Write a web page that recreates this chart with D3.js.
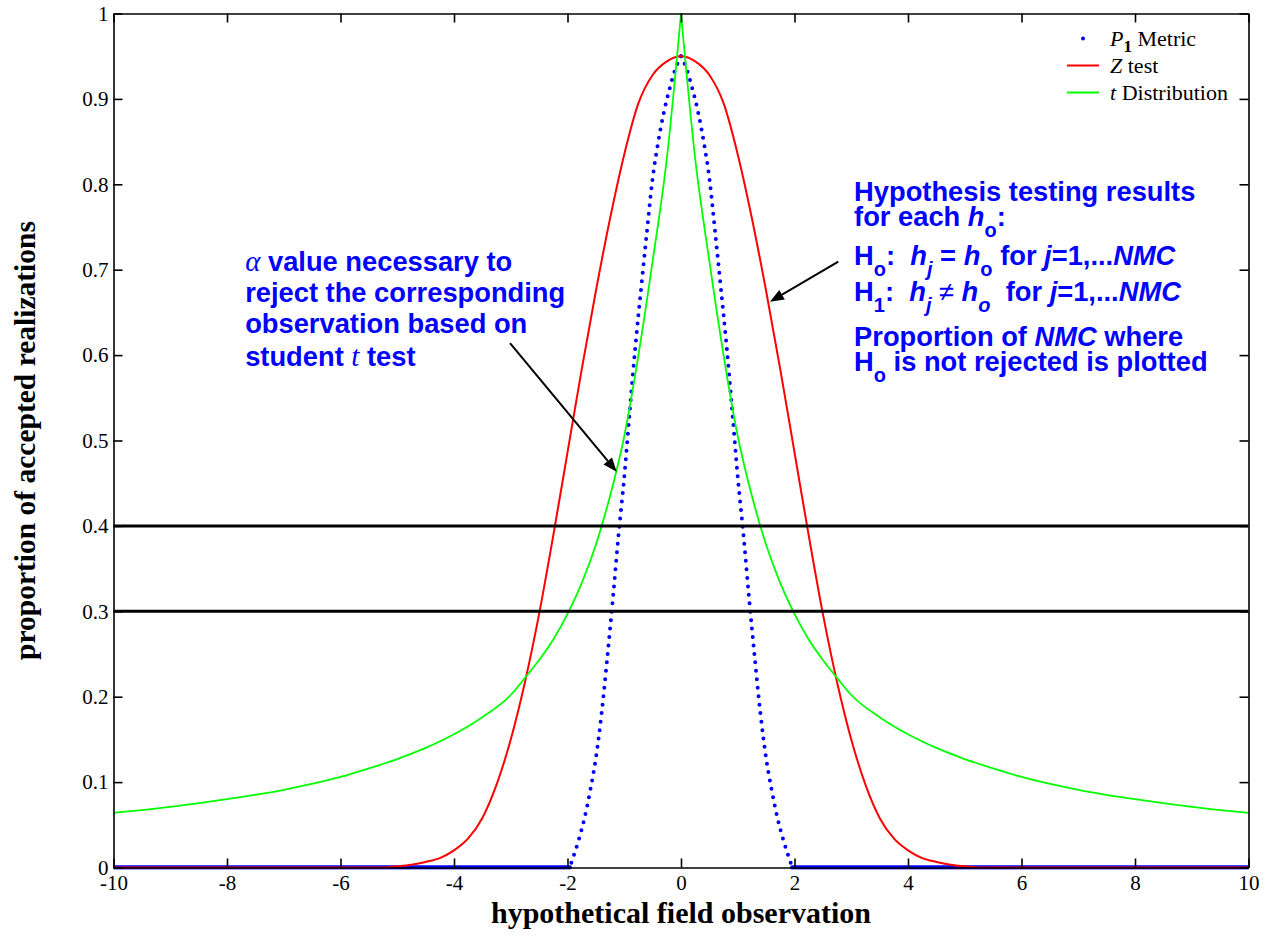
<!DOCTYPE html>
<html>
<head>
<meta charset="utf-8">
<script src="https://cdn.jsdelivr.net/npm/d3@7"></script>
<style>
  body { margin: 0; background: #fff; }
  svg { display: block; }
  text { white-space: pre; }
</style>
</head>
<body>
<svg id="chart" width="1267" height="941"></svg>
<script>
// ---- data -------------------------------------------------------------
// P1 metric (plotted as dots)
const p1X = [-10, -1.96, -1.9, -1.8, -1.7, -1.6, -1.5, -1.4, -1.3, -1.2, -1.1, -1.0,
  -0.9, -0.8, -0.7, -0.6, -0.5, -0.4, -0.3, -0.2, -0.1, 0,
  0.1, 0.2, 0.3, 0.4, 0.5, 0.6, 0.7, 0.8, 0.9, 1.0, 1.1, 1.2, 1.3, 1.4, 1.5,
  1.6, 1.7, 1.8, 1.9, 1.96, 10];
const p1Y = [0, 0, 0.012, 0.033, 0.058, 0.09, 0.128, 0.18, 0.245, 0.315, 0.39, 0.457,
  0.537, 0.613, 0.68, 0.745, 0.807, 0.85, 0.885, 0.912, 0.935, 0.95,
  0.935, 0.912, 0.885, 0.85, 0.807, 0.745, 0.68, 0.613, 0.537, 0.457, 0.39, 0.315, 0.245, 0.18, 0.128,
  0.09, 0.058, 0.033, 0.012, 0, 0];

// Z test
const zX = [-10, -5.25, -5, -4.75, -4.5, -4.25, -4, -3.75, -3.5, -3.25, -3, -2.75, -2.5,
  -2.25, -2, -1.75, -1.5, -1.25, -1, -0.75, -0.5, -0.25, 0,
  0.25, 0.5, 0.75, 1, 1.25, 1.5, 1.75, 2, 2.25, 2.5, 2.75, 3, 3.25, 3.5,
  3.75, 4, 4.25, 4.5, 4.75, 5, 5.25, 10];
const zY = [0, 0, 0.0014, 0.0033, 0.0065, 0.011, 0.02, 0.034, 0.058, 0.097, 0.15, 0.217, 0.297,
  0.389, 0.486, 0.583, 0.675, 0.76, 0.835, 0.895, 0.928, 0.944, 0.95,
  0.944, 0.928, 0.895, 0.835, 0.76, 0.675, 0.583, 0.486, 0.389, 0.297, 0.217, 0.15, 0.097, 0.058,
  0.034, 0.02, 0.011, 0.0065, 0.0033, 0.0014, 0, 0];

// t distribution
const tX = [-10, -9, -8, -7, -6, -5.5, -5, -4.5, -4, -3.5, -3, -2.75, -2.5, -2.25, -2,
  -1.75, -1.5, -1.25, -1, -0.75, -0.5, -0.25, 0,
  0.25, 0.5, 0.75, 1, 1.25, 1.5, 1.75, 2, 2.25, 2.5, 2.75, 3, 3.5, 4, 4.5, 5, 5.5,
  6, 7, 8, 9, 10];
const tY = [0.064, 0.071, 0.080, 0.091, 0.106, 0.116, 0.127, 0.14, 0.156, 0.176, 0.202, 0.222, 0.243, 0.267, 0.297,
  0.333, 0.378, 0.435, 0.505, 0.60, 0.71, 0.83, 1.0,
  0.83, 0.71, 0.60, 0.505, 0.435, 0.378, 0.333, 0.297, 0.267, 0.243, 0.222, 0.202, 0.176, 0.156, 0.14, 0.127, 0.116,
  0.106, 0.091, 0.080, 0.071, 0.064];

// reference levels
const refLevels = [0.3, 0.4];

// ticks
const xTicks = [-10, -8, -6, -4, -2, 0, 2, 4, 6, 8, 10];
const xTickLabels = ["-10", "-8", "-6", "-4", "-2", "0", "2", "4", "6", "8", "10"];
const yTicks = [0, 0.1, 0.2, 0.3, 0.4, 0.5, 0.6, 0.7, 0.8, 0.9, 1];
const yTickLabels = ["0", "0.1", "0.2", "0.3", "0.4", "0.5", "0.6", "0.7", "0.8", "0.9", "1"];

const seriesNames = ["Metric", "test", "Distribution"];

// ---- layout -----------------------------------------------------------
const svg = d3.select("#chart");
const W = 1267, H = 941;
const plot = { left: 113.5, right: 1248.5, top: 13.5, bottom: 867.5 };
const SERIF = "'Liberation Serif', 'Times New Roman', Times, serif";
const SANS = "'Liberation Sans', Arial, Helvetica, sans-serif";
const BLUE = "#0000ff", RED = "#ff0000", GREEN = "#00ff00";

svg.append("rect").attr("width", W).attr("height", H).attr("fill", "#fff");

const x = d3.scaleLinear().domain([-10, 10]).range([plot.left, plot.right]);
const y = d3.scaleLinear().domain([0, 1]).range([plot.bottom, plot.top]);

svg.append("defs").append("clipPath").attr("id", "plotclip")
  .append("rect")
  .attr("x", plot.left).attr("y", plot.top - 2)
  .attr("width", plot.right - plot.left).attr("height", plot.bottom - plot.top + 4);

const curves = svg.append("g").attr("clip-path", "url(#plotclip)");

const zip = (xs, ys) => xs.map((v, i) => [v, ys[i]]);
const line = d3.line().x(d => x(d[0])).y(d => y(d[1]));
const smooth = d3.line().x(d => x(d[0])).y(d => y(d[1])).curve(d3.curveMonotoneX);
// split a peaked series at its apex so the apex stays pointed
const halves = pts => {
  const k = d3.maxIndex(pts, d => d[1]);
  return [pts.slice(0, k + 1), pts.slice(k)];
};

// P1 metric: dotted curve; where it sits on zero the dots merge into a solid band
const p1 = zip(p1X, p1Y);
const isFlat = (i) => p1[i][1] === 0 &&
  ((i > 0 && p1[i - 1][1] === 0) || (i < p1.length - 1 && p1[i + 1][1] === 0));
const flatPts = p1.filter((d, i) => isFlat(i));
const peakPts = p1.filter((d, i) => d[1] !== 0 || (i > 0 && p1[i - 1][1] !== 0) || (i < p1.length - 1 && p1[i + 1][1] !== 0));
[flatPts.filter(d => d[0] < 0), flatPts.filter(d => d[0] > 0)].forEach(run => {
  curves.append("path").attr("d", line(run))
    .attr("fill", "none").attr("stroke", BLUE)
    .attr("stroke-width", 4.4).attr("stroke-linecap", "round");
});
halves(peakPts).forEach((half, i) => {
  curves.append("path").attr("d", smooth(i === 0 ? half.slice().reverse() : half))
    .attr("fill", "none").attr("stroke", BLUE)
    .attr("stroke-width", 4).attr("stroke-linecap", "round")
    .attr("stroke-dasharray", "0 8.5");
});

// Z test
curves.append("path").attr("d", smooth(zip(zX, zY)))
  .attr("fill", "none").attr("stroke", RED).attr("stroke-width", 2)
  .attr("stroke-linejoin", "round");

// t distribution (pointed apex)
halves(zip(tX, tY)).forEach(half => {
  curves.append("path").attr("d", smooth(half))
    .attr("fill", "none").attr("stroke", GREEN).attr("stroke-width", 1.8)
    .attr("stroke-linejoin", "round");
});

// horizontal reference levels
curves.selectAll("line.ref").data(refLevels).join("line")
  .attr("class", "ref")
  .attr("x1", plot.left).attr("x2", plot.right)
  .attr("y1", d => y(d)).attr("y2", d => y(d))
  .attr("stroke", "#000").attr("stroke-width", 3);

// ---- axes (box with inward ticks) -------------------------------------
function styleAxis(g) {
  g.selectAll("path.domain").attr("stroke", "#000").attr("stroke-width", 1.6);
  g.selectAll(".tick line").attr("stroke", "#000").attr("stroke-width", 1.6);
  g.selectAll(".tick text").attr("font-family", SERIF).attr("font-size", 21).attr("fill", "#000");
}
const TICK = 9;
svg.append("g").attr("transform", `translate(0,${plot.bottom})`)
  .call(d3.axisBottom(x).tickValues(xTicks).tickFormat((d, i) => xTickLabels[i])
    .tickSizeInner(-TICK).tickSizeOuter(0).tickPadding(8))
  .call(styleAxis);
svg.append("g").attr("transform", `translate(0,${plot.top})`)
  .call(d3.axisTop(x).tickValues(xTicks).tickFormat("").tickSizeInner(-TICK).tickSizeOuter(0))
  .call(styleAxis);
svg.append("g").attr("transform", `translate(${plot.left},0)`)
  .call(d3.axisLeft(y).tickValues(yTicks).tickFormat((d, i) => yTickLabels[i])
    .tickSizeInner(-TICK).tickSizeOuter(0).tickPadding(5))
  .call(styleAxis);
svg.append("g").attr("transform", `translate(${plot.right},0)`)
  .call(d3.axisRight(y).tickValues(yTicks).tickFormat("").tickSizeInner(-TICK).tickSizeOuter(0))
  .call(styleAxis);

// axis titles
svg.append("text")
  .attr("x", (plot.left + plot.right) / 2).attr("y", 923)
  .attr("text-anchor", "middle")
  .attr("font-family", SERIF).attr("font-weight", "bold").attr("font-size", 30)
  .text("hypothetical field observation");
svg.append("text")
  .attr("transform", `translate(35,${(plot.top + plot.bottom) / 2}) rotate(-90)`)
  .attr("text-anchor", "middle")
  .attr("font-family", SERIF).attr("font-weight", "bold").attr("font-size", 29.5)
  .text("proportion of accepted realizations");

// ---- legend -------------------------------------------------------------
const legend = svg.append("g");
const legRows = [38.5, 65.5, 92.5];
const legSampleX = [1067, 1099];
const legTextX = 1110;
legend.append("circle").attr("cx", (legSampleX[0] + legSampleX[1]) / 2).attr("cy", legRows[0])
  .attr("r", 2).attr("fill", BLUE);
legend.append("line").attr("x1", legSampleX[0]).attr("x2", legSampleX[1])
  .attr("y1", legRows[1]).attr("y2", legRows[1]).attr("stroke", RED).attr("stroke-width", 2);
legend.append("line").attr("x1", legSampleX[0]).attr("x2", legSampleX[1])
  .attr("y1", legRows[2]).attr("y2", legRows[2]).attr("stroke", GREEN).attr("stroke-width", 2);

function legendText(row, prefix, subText, name) {
  const t = legend.append("text").attr("x", legTextX).attr("y", row + 7.5)
    .attr("font-family", SERIF).attr("font-size", 22).attr("fill", "#000");
  t.append("tspan").attr("font-style", "italic").text(prefix);
  if (subText) {
    t.append("tspan").attr("dy", 6).attr("font-size", 17).attr("font-weight", "bold").text(subText);
    t.append("tspan").attr("dy", -6).text(" " + name);
  } else {
    t.append("tspan").text(" " + name);
  }
}
legendText(legRows[0], "P", "1", seriesNames[0]);
legendText(legRows[1], "Z", null, seriesNames[1]);
legendText(legRows[2], "t", null, seriesNames[2]);

// ---- annotations --------------------------------------------------------
const ann = svg.append("g");
const SUB_DY = 11;
const NOTE_SIZE = 27.3;
function richLine(px, py, parts) {
  const t = ann.append("text").attr("x", px).attr("y", py)
    .attr("font-family", SANS).attr("font-weight", "bold").attr("font-size", NOTE_SIZE)
    .attr("fill", BLUE);
  let shift = 0;
  parts.forEach(p => {
    const part = typeof p === "string" ? { t: p } : p;
    const s = t.append("tspan").text(part.t);
    const target = part.sub ? SUB_DY : 0;
    if (target !== shift) { s.attr("dy", target - shift); shift = target; }
    if (part.sub) s.attr("font-size", 20);
    if (part.it) s.attr("font-style", "italic");
    if (part.serif) s.attr("font-family", SERIF).attr("font-weight", "normal").attr("font-size", 29);
    if (part.sym) s.attr("font-weight", "normal");
  });
}
const it = s => ({ t: s, it: true });
const sub = s => ({ t: s, sub: true });
const subIt = s => ({ t: s, sub: true, it: true });

// left note, anchored in data units
const leftAnchor = [-7.68, 0.698];
const leftLines = [
  [{ t: "\u03b1", it: true, serif: true }, " value necessary to"],
  ["reject the corresponding"],
  ["observation based on"],
  ["student ", { t: "t", it: true, serif: true }, " test"]
];
const leftOffsets = [0, 31, 62, 94.5];
leftLines.forEach((parts, i) => richLine(x(leftAnchor[0]), y(leftAnchor[1]) + leftOffsets[i], parts));

// right note
const rightAnchor = [3.05, 0.78];
const rightLines = [
  ["Hypothesis testing results"],
  ["for each ", it("h"), sub("o"), ":"],
  ["H", sub("o"), ":  ", it("h"), subIt("j"), " = ", it("h"), sub("o"), " for ", it("j"), "=1,...", it("NMC")],
  ["H", sub("1"), ":  ", it("h"), subIt("j"), { t: " \u2260 ", sym: true }, it("h"), subIt("o"), "  for ", it("j"), "=1,...", it("NMC")],
  ["Proportion of ", it("NMC"), " where"],
  ["H", sub("o"), " is not rejected is plotted"]
];
const rightOffsets = [0, 25, 63.3, 100, 145, 170];
rightLines.forEach((parts, i) => richLine(x(rightAnchor[0]), y(rightAnchor[1]) + rightOffsets[i], parts));

// arrows
function arrow(from, to) {
  const x1 = x(from[0]), y1 = y(from[1]), x2 = x(to[0]), y2 = y(to[1]);
  const a = Math.atan2(y2 - y1, x2 - x1);
  const L = 14, HW = 5.5;
  const bx = x2 - L * Math.cos(a), by = y2 - L * Math.sin(a);
  ann.append("line").attr("x1", x1).attr("y1", y1).attr("x2", bx).attr("y2", by)
    .attr("stroke", "#000").attr("stroke-width", 2);
  ann.append("path")
    .attr("d", `M${x2},${y2}L${bx - HW * Math.sin(a)},${by + HW * Math.cos(a)}L${bx + HW * Math.sin(a)},${by - HW * Math.cos(a)}Z`)
    .attr("fill", "#000");
}
arrow([-3.013, 0.614], [-1.133, 0.4635]);
arrow([2.772, 0.7094], [1.568, 0.6625]);
</script>
</body>
</html>
